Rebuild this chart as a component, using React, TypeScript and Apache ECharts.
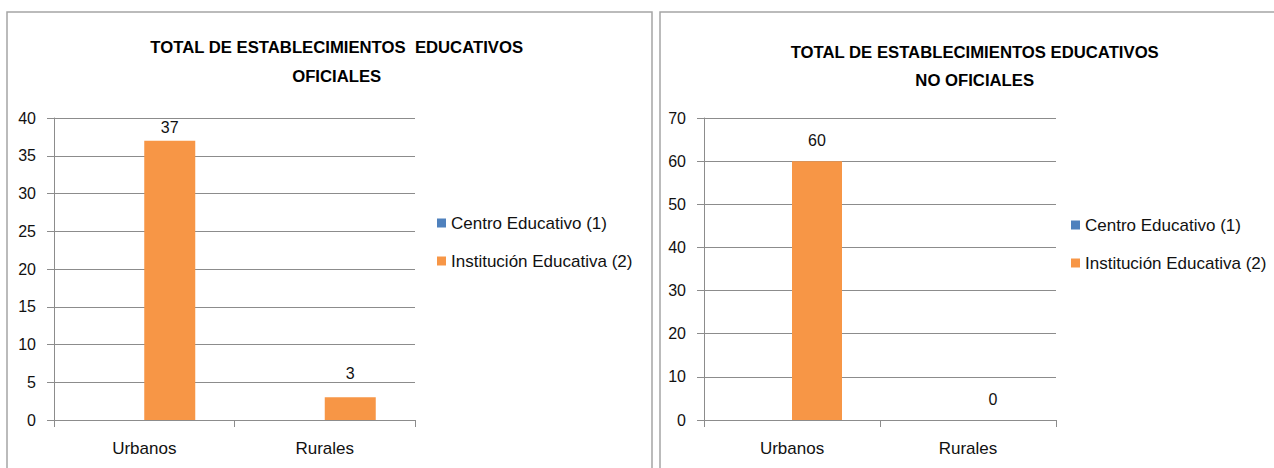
import React, { useEffect, useRef } from "react";
import * as echarts from "echarts";

const categories = ["Urbanos", "Rurales"];
const seriesNames = ["Centro Educativo (1)", "Institución Educativa (2)"];

const oficialesCentro: (number | null)[] = [null, null];
const oficialesInstitucion = [37, 3];
const noOficialesCentro: (number | null)[] = [null, null];
const noOficialesInstitucion = [60, 0];

const titleOficiales = ["TOTAL DE ESTABLECIMIENTOS  EDUCATIVOS", "OFICIALES"];
const titleNoOficiales = ["TOTAL DE ESTABLECIMIENTOS EDUCATIVOS", "NO OFICIALES"];

const BLUE = "#4F81BD";
const ORANGE = "#F79646";
const GRID = "#8c8c8c";
const TEXT = "#111";
const FONT = "'Liberation Sans', Arial, sans-serif";

export default function App() {
  const ref = useRef<HTMLDivElement>(null);
  useEffect(() => {
    document.body.style.margin = "0";
    if (!ref.current) return;
    const chart = echarts.init(ref.current, null, { renderer: "svg" });

    const grids = [
      { left: 54, top: 118, width: 361, height: 302 },
      { left: 704, top: 118, width: 352, height: 302 },
    ];

    const xAxis = grids.map((_, i) => ({
      type: "category" as const,
      gridIndex: i,
      data: categories,
      axisLine: { show: true, lineStyle: { color: GRID, width: 1 } },
      axisTick: { show: true, length: 7, lineStyle: { color: GRID } },
      axisLabel: { color: TEXT, fontSize: 17, fontFamily: FONT, margin: 20 },
    }));

    const yAxis = [
      { max: 40, interval: 5 },
      { max: 70, interval: 10 },
    ].map((a, i) => ({
      type: "value" as const,
      gridIndex: i,
      min: 0,
      max: a.max,
      interval: a.interval,
      axisLine: { show: true, lineStyle: { color: GRID, width: 1 } },
      axisTick: { show: true, length: 7, lineStyle: { color: GRID } },
      splitLine: { show: true, lineStyle: { color: GRID, width: 1 } },
      axisLabel: { color: TEXT, fontSize: 16, fontFamily: FONT, margin: 18 },
    }));

    const labelDist = [
      [5, 16],
      [13, 13],
    ];

    const mkSeries = (
      i: number,
      blue: (number | null)[],
      orange: number[],
      barWidth: number
    ) => [
      {
        name: seriesNames[0],
        type: "bar" as const,
        xAxisIndex: i,
        yAxisIndex: i,
        data: blue,
        barWidth,
        barGap: "0%",
        itemStyle: { color: BLUE },
        label: { show: true, position: "top" as const, color: TEXT, fontSize: 16, fontFamily: FONT },
      },
      {
        name: seriesNames[1],
        type: "bar" as const,
        xAxisIndex: i,
        yAxisIndex: i,
        data: orange.map((v, k) => ({
          value: v,
          label: { distance: labelDist[i][k] },
        })),
        barWidth,
        barGap: "0%",
        itemStyle: { color: ORANGE },
        label: { show: true, position: "top" as const, color: TEXT, fontSize: 16, fontFamily: FONT },
      },
    ];

    const legendBase = {
      orient: "vertical" as const,
      data: seriesNames,
      itemWidth: 9,
      itemHeight: 9,
      icon: "rect",
      itemGap: 18,
      textStyle: { color: TEXT, fontSize: 17, fontFamily: FONT, lineHeight: 20 },
      padding: 0,
    };

    const titleFont = `bold 16.7px ${FONT}`;
    const mkTitle = (lines: string[], x: number, y1: number, y2: number) =>
      lines.map((t, k) => ({
        type: "text" as const,
        x,
        y: k === 0 ? y1 : y2,
        style: {
          text: t,
          font: titleFont,
          fill: "#000",
          align: "center",
          verticalAlign: "middle",
        },
      }));

    chart.setOption({
      animation: false,
      backgroundColor: "#fff",
      grid: grids,
      xAxis,
      yAxis,
      legend: [
        { ...legendBase, left: 437, top: 213 },
        { ...legendBase, left: 1071, top: 215 },
      ],
      series: [
        ...mkSeries(0, oficialesCentro, oficialesInstitucion, 51),
        ...mkSeries(1, noOficialesCentro, noOficialesInstitucion, 50),
      ],
      graphic: [
        {
          type: "rect",
          shape: { x: 7, y: 12, width: 645, height: 480 },
          style: { fill: "none", stroke: "#a5a5a5", lineWidth: 1.5 },
          silent: true,
        },
        {
          type: "rect",
          shape: { x: 660, y: 12, width: 640, height: 480 },
          style: { fill: "none", stroke: "#a5a5a5", lineWidth: 1.5 },
          silent: true,
        },
        ...mkTitle(titleOficiales, 336.7, 47.5, 76.7),
        ...mkTitle(titleNoOficiales, 974.7, 52.5, 80.8),
      ],
    });

    return () => chart.dispose();
  }, []);

  return <div ref={ref} style={{ width: 1274, height: 468 }} />;
}
